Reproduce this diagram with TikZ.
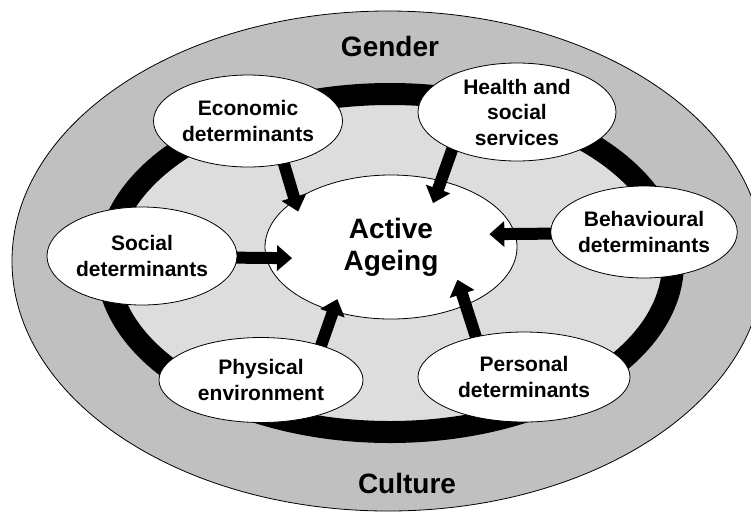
\documentclass[tikz,border=0pt]{standalone}
\usepackage{fontspec}
\setmainfont{Liberation Sans}
\usetikzlibrary{shapes.geometric,arrows.meta}

\definecolor{bandgray}{RGB}{192,192,192}
\definecolor{fieldgray}{RGB}{221,221,221}

\pgfdeclarelayer{back}
\pgfdeclarelayer{front}
\pgfsetlayers{back,main,front}

\tikzset{
  determinant/.style={ellipse,draw,fill=white,line width=0.8pt,inner sep=0pt,align=center,
    font=\bfseries\fontsize{21}{25.5}\selectfont},
  push/.style={line width=12pt,-{Triangle[width=25pt,length=15pt]},shorten <=-6pt},
  band label/.style={font=\bfseries\fontsize{28}{32}\selectfont},
}

\begin{document}
\begin{tikzpicture}[x=1pt,y=-1pt]
\useasboundingbox (0,0) rectangle (751,512);

% outer band and the black ring
\begin{pgfonlayer}{back}
  \draw[fill=bandgray,line width=0.8pt] (388,261) ellipse [x radius=376,y radius=250];
  \draw[line width=22pt,fill=fieldgray] (390,263) ellipse [x radius=283,y radius=169];
\end{pgfonlayer}

\node[band label] (gender) at (390,46) {Gender};
\node[band label] (culture) at (407,483) {Culture};

% the six determinants sit on top of everything
\begin{pgfonlayer}{front}
  \node[determinant,minimum width=189pt,minimum height=92pt] (econ) at (248,121) {Economic\\determinants};
  \node[determinant,minimum width=198pt,minimum height=98pt] (health) at (517,112) {Health and\\social\\services};
  \node[determinant,minimum width=181pt,minimum height=92pt] (behav) at (644,232) {Behavioural\\determinants};
  \node[determinant,minimum width=190pt,minimum height=98pt] (social) at (142,256) {Social\\determinants};
  \node[determinant,minimum width=204pt,minimum height=85pt] (physical) at (261,380) {Physical\\environment};
  \node[determinant,minimum width=212pt,minimum height=90pt] (personal) at (524,377) {Personal\\determinants};
\end{pgfonlayer}

\node[determinant,minimum width=252pt,minimum height=144pt,
      font=\bfseries\fontsize{28}{32}\selectfont] (ageing) at (391,247) {Active\\Ageing};

% arrows into the centre
\draw[push,shorten >=-12pt] (econ.-50) -- (ageing.154);
\draw[push,shorten >=-24pt] (health.210) -- (ageing.53);
\draw[push,shorten >=-26pt] (behav.181) -- (ageing.6);
\draw[push,shorten >=-26pt] (social.-1) -- (ageing.185);
\draw[push,shorten >=-13pt] (physical.30) -- (ageing.228);
\draw[push,shorten >=-27pt] (personal.140) -- (ageing.-38);
\end{tikzpicture}
\end{document}
